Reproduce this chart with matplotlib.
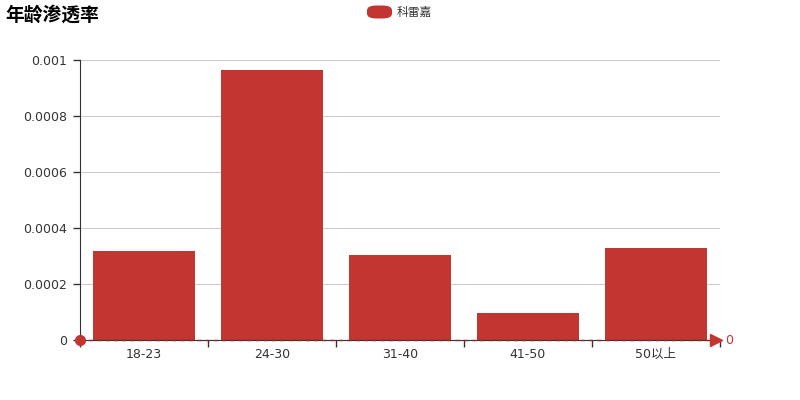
import matplotlib.pyplot as plt
import numpy as np
from matplotlib.patches import FancyBboxPatch
from matplotlib.ticker import FixedLocator

plt.rcParams['font.family'] = ['DejaVu Sans', 'Noto Sans CJK SC']

# 数据
categories = ["18-23", "24-30", "31-40", "41-50", "50以上"]
values = [0.000318, 0.000966, 0.000302, 0.0000964, 0.000329]
y_ticks = [0, 0.0002, 0.0004, 0.0006, 0.0008, 0.001]
y_labels = ["0", "0.0002", "0.0004", "0.0006", "0.0008", "0.001"]
series_name = "科雷嘉"
title = "年龄渗透率"

RED = "#c23531"
TEXT = "#333333"

fig = plt.figure(figsize=(8, 4), dpi=100)
ax = fig.add_axes([0.1, 0.15, 0.8, 0.7])

x = np.arange(len(categories))
ax.bar(x, values, width=0.8, color=RED, zorder=2)

ax.set_xlim(-0.5, len(categories) - 0.5)
ax.set_ylim(0, 0.001)

# y 轴
ax.set_yticks(y_ticks)
ax.set_yticklabels(y_labels, fontsize=9, color=TEXT)
ax.tick_params(axis="y", length=5, width=1, color=TEXT, pad=4)
ax.grid(axis="y", color="#cccccc", linewidth=0.8, zorder=0)

# x 轴: 刻度在类别之间, 标签在类别中心
ax.xaxis.set_major_locator(FixedLocator(np.arange(-0.5, len(categories), 1.0)))
ax.xaxis.set_major_formatter(plt.NullFormatter())
ax.xaxis.set_minor_locator(FixedLocator(x))
ax.set_xticklabels(categories, minor=True, fontsize=9, color=TEXT)
ax.tick_params(axis="x", which="major", length=5, width=1, color=TEXT)
ax.tick_params(axis="x", which="minor", length=0, pad=6)

for side in ["top", "right"]:
    ax.spines[side].set_visible(False)
ax.spines["left"].set_color(TEXT)
ax.spines["bottom"].set_color(TEXT)

# 标线 y=0
x_end = len(categories) - 0.5
ax.plot([-0.5, x_end], [0, 0], linestyle=(0, (3, 3)),
        color="#8a2a27", linewidth=1, zorder=3, clip_on=False)
ax.plot([-0.5], [0], "o", color=RED, markersize=7, zorder=4, clip_on=False)
ax.plot([x_end - 0.03], [0], marker=">", color=RED, markersize=8,
        zorder=4, clip_on=False)
ax.text(x_end + 0.04, 0, "0", color=RED, fontsize=9,
        va="center", ha="left")

# 标题
fig.text(5 / 800, 1 - 15 / 400, title, fontsize=13.5, fontweight="bold",
         color="black", ha="left", va="center")

# 图例
fig.patches.append(FancyBboxPatch((367 / 800, 1 - 18.5 / 400), 25 / 800, 13 / 400,
                                  boxstyle="round,pad=0,rounding_size=0.012",
                                  transform=fig.transFigure, facecolor=RED,
                                  edgecolor="none"))
fig.text(397 / 800, 1 - 12 / 400, series_name, fontsize=8.5, color=TEXT,
         ha="left", va="center")

fig.savefig("out.png", dpi=100)
